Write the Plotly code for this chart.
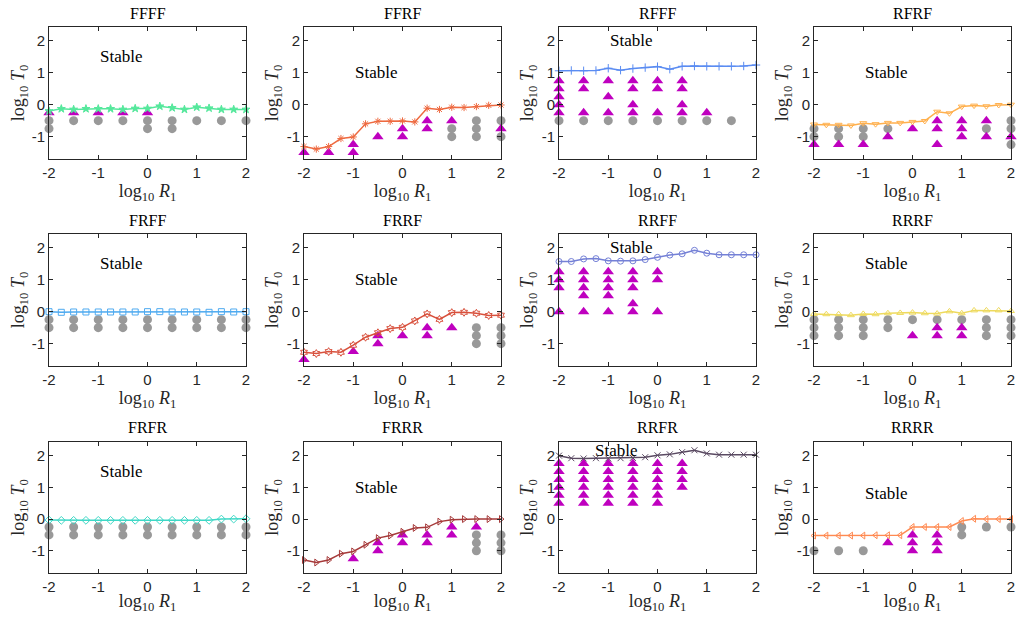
import plotly.graph_objects as go

x_line = [-2, -1.75, -1.5, -1.25, -1, -0.75, -0.5, -0.25, 0, 0.25, 0.5, 0.75, 1, 1.25, 1.5, 1.75, 2]

titles = ["FFFF", "FFRF", "RFFF", "RFRF",
          "FRFF", "FRRF", "RRFF", "RRRF",
          "FRFR", "FRRR", "RRFR", "RRRR"]

line_colors = ["#55E89C", "#EE6A40", "#5B8CF2", "#FFB04D",
               "#4EAAF0", "#D8503C", "#7480D6", "#EEDA5E",
               "#3ED8C6", "#A63A3A", "#5A4A62", "#FF8A52"]

line_symbols = ["star", "asterisk-open", "cross-thin-open", "triangle-down-open",
                "square-open", "hexagram-open", "circle-open", "triangle-up-open",
                "diamond-open", "triangle-right-open", "x-thin-open", "triangle-left-open"]

# critical log10 T0 vs log10 R1
line_y = {
    "FFFF": [-0.2, -0.13, -0.15, -0.13, -0.13, -0.13, -0.15, -0.12, -0.12, -0.05, -0.1, -0.15, -0.08, -0.11, -0.15, -0.15, -0.15],
    "FFRF": [-1.31, -1.39, -1.31, -1.06, -1.01, -0.6, -0.52, -0.52, -0.51, -0.54, -0.11, -0.15, -0.08, -0.09, -0.06, -0.02, -0.01],
    "RFFF": [1.06, 1.07, 1.06, 1.07, 1.14, 1.08, 1.13, 1.16, 1.19, 1.11, 1.2, 1.21, 1.2, 1.2, 1.2, 1.21, 1.24],
    "RFRF": [-0.62, -0.63, -0.63, -0.65, -0.58, -0.61, -0.57, -0.57, -0.54, -0.51, -0.22, -0.27, -0.06, -0.03, -0.05, -0.01, 0.0],
    "FRFF": [0.0, -0.02, -0.01, -0.01, -0.01, -0.01, -0.01, -0.01, 0.0, 0.0, -0.01, -0.01, -0.01, -0.02, 0.0, -0.01, 0.0],
    "FRRF": [-1.27, -1.31, -1.25, -1.27, -1.05, -0.8, -0.66, -0.53, -0.49, -0.29, -0.07, -0.24, -0.03, -0.02, -0.05, -0.12, -0.11],
    "RRFF": [1.57, 1.57, 1.65, 1.66, 1.59, 1.58, 1.59, 1.63, 1.7, 1.77, 1.81, 1.92, 1.83, 1.78, 1.78, 1.78, 1.78],
    "RRRF": [-0.07, -0.08, -0.08, -0.11, -0.07, -0.08, -0.05, -0.04, -0.03, -0.05, -0.06, 0.01, -0.05, 0.04, 0.04, 0.04, 0.02],
    "FRFR": [-0.03, -0.04, -0.04, -0.04, -0.04, -0.04, -0.04, -0.04, -0.04, -0.04, -0.04, -0.04, -0.04, -0.04, 0.0, 0.0, 0.01],
    "FRRR": [-1.29, -1.37, -1.29, -1.09, -1.02, -0.81, -0.6, -0.52, -0.4, -0.28, -0.26, -0.08, -0.02, 0.0, 0.0, 0.0, 0.0],
    "RRFR": [2.0, 1.92, 1.91, 1.92, 1.91, 1.92, 1.93, 1.95, 2.01, 2.04, 2.11, 2.17, 2.07, 2.03, 2.03, 2.03, 2.03],
    "RRRR": [-0.52, -0.52, -0.52, -0.52, -0.52, -0.51, -0.51, -0.51, -0.25, -0.25, -0.25, -0.25, -0.06, 0.01, 0.0, 0.0, 0.0],
}

# unstable samples (magenta triangles): (log10 R1, log10 T0)
tri_x = {
    "FFFF": [-2, -1.5, -1, -0.5, 0],
    "FFRF": [-2, -1.5, -1, -1, -0.5, 0, 0, 0.5, 0.5, 1, 2],
    "RFFF": [-2, -2, -2, -2, -2, -1.5, -1.5, -1.5, -1, -1, -1, -0.5, -0.5, -0.5, -0.5, 0, 0, 0, 0.5, 0.5, 0.5, 0.5, 1],
    "RFRF": [-2, -1.5, -1, -0.5, 0, 0.5, 0.5, 0.5, 1, 1, 1, 1.5, 1.5, 2],
    "FRFF": [],
    "FRRF": [-2, -1, -0.5, -0.5, 0, 0.5, 0.5, 1],
    "RRFF": [-2, -2, -2, -2, -1.5, -1.5, -1.5, -1.5, -1.5, -1, -1, -1, -1, -1, -0.5, -0.5, -0.5, -0.5, -0.5, 0, 0, 0],
    "RRRF": [0, 0.5, 0.5, 1, 1],
    "FRFR": [],
    "FRRR": [-1, -0.5, -0.5, 0, 0, 0.5, 0.5, 1, 1, 1.5],
    "RRFR": [-2] * 6 + [-1.5] * 6 + [-1] * 6 + [-0.5] * 6 + [0] * 6 + [0.5] * 4,
    "RRRR": [-0.5, 0, 0, 0, 0.5, 0.5, 0.5],
}
tri_y = {
    "FFFF": [-0.25, -0.25, -0.25, -0.25, -0.25],
    "FFRF": [-1.5, -1.5, -1.25, -1.5, -1.0, -0.75, -1.0, -0.5, -0.75, -0.5, -0.75],
    "RFFF": [0.75, 0.5, 0.25, 0, -0.25, 0.75, 0.5, -0.25, 0.75, 0.25, -0.25, 0.75, 0.5, 0, -0.25, 0.75, 0.5, -0.25, 0.75, 0.5, 0, -0.25, -0.25],
    "RFRF": [-1.25, -1.25, -1.25, -1.0, -0.75, -0.5, -0.75, -1.25, -0.5, -0.75, -1.0, -0.5, -1.0, -1.0],
    "FRFF": [],
    "FRRF": [-1.5, -1.25, -0.75, -1.0, -0.75, -0.5, -0.75, -0.5],
    "RRFF": [1.25, 1.0, 0.75, 0, 1.25, 1.0, 0.75, 0.5, 0, 1.25, 1.0, 0.75, 0.5, 0, 1.25, 1.0, 0.75, 0.25, 0, 1.25, 1.0, 0],
    "RRRF": [-0.75, -0.5, -0.75, -0.5, -0.75],
    "FRFR": [],
    "FRRR": [-1.25, -0.75, -1.0, -0.5, -0.75, -0.5, -0.75, -0.25, -0.5, -0.25],
    "RRFR": [1.75, 1.5, 1.25, 1.0, 0.75, 0.5] * 5 + [1.75, 1.5, 1.25, 1.0],
    "RRRR": [-0.75, -0.5, -0.75, -1.0, -0.5, -0.75, -1.0],
}

# other samples (gray circles)
dot_x = {
    "FFFF": [-2, -2, -1.5, -1, -0.5, 0, 0, 0.5, 0.5, 1, 1.5, 2],
    "FFRF": [1, 1, 1.5, 1.5, 1.5, 2, 2],
    "RFFF": [-2, -1.5, -1, -0.5, 0, 0.5, 1, 1.5],
    "RFRF": [-2, -2, -1.5, -1.5, -1, -1, -0.5, 1.5, 2, 2, 2],
    "FRFF": [-2, -2, -1.5, -1.5, -1, -1, -0.5, -0.5, 0, 0, 0.5, 0.5, 1, 1, 1.5, 1.5, 2, 2],
    "FRRF": [1.5, 1.5, 1.5, 2, 2, 2],
    "RRFF": [],
    "RRRF": [-2, -2, -2, -1.5, -1.5, -1.5, -1, -1, -1, -0.5, -0.5, 0, 0.5, 1, 1.5, 1.5, 1.5, 2, 2, 2],
    "FRFR": [-2, -2, -1.5, -1.5, -1, -1, -0.5, -0.5, 0, 0, 0.5, 0.5, 1, 1, 1.5, 1.5, 2, 2],
    "FRRR": [1.5, 1.5, 1.5, 2, 2, 2],
    "RRFR": [],
    "RRRR": [-2, -1.5, -1, 1, 1, 1.5, 2],
}
dot_y = {
    "FFFF": [-0.5, -0.75, -0.5, -0.5, -0.5, -0.5, -0.75, -0.5, -0.75, -0.5, -0.5, -0.5],
    "FFRF": [-0.75, -1.0, -0.5, -0.75, -1.0, -0.5, -1.0],
    "RFFF": [-0.5] * 8,
    "RFRF": [-0.75, -1.0, -0.75, -1.0, -0.75, -1.0, -0.75, -0.75, -0.5, -0.75, -1.25],
    "FRFF": [-0.25, -0.5] * 9,
    "FRRF": [-0.5, -0.75, -1.0, -0.5, -0.75, -1.0],
    "RRFF": [],
    "RRRF": [-0.25, -0.5, -0.75, -0.25, -0.5, -0.75, -0.25, -0.5, -0.75, -0.25, -0.5, -0.25, -0.25, -0.25, -0.25, -0.5, -0.75, -0.25, -0.5, -0.75],
    "FRFR": [-0.25, -0.5] * 9,
    "FRRR": [-0.5, -0.75, -1.0, -0.5, -0.75, -1.0],
    "RRFR": [],
    "RRRR": [-1.0, -1.0, -1.0, -0.25, -0.5, -0.25, -0.25],
}

stable_pos = {
    "FFFF": (-1.0, 1.5), "FFRF": (-1.0, 1.0), "RFFF": (-1.0, 2.0), "RFRF": (-1.0, 1.0),
    "FRFF": (-1.0, 1.5), "FRRF": (-1.0, 1.0), "RRFF": (-1.0, 2.0), "RRRF": (-1.0, 1.5),
    "FRFR": (-1.0, 1.5), "FRRR": (-1.0, 1.0), "RRFR": (-1.3, 2.15), "RRRR": (-1.0, 0.8),
}

# page body has an 8px margin: the figure starts at (8, 8) in the window
OFF = 8
W, H = 1028 - 2 * OFF, 622 - 2 * OFF
col_px = [(49, 246), (304, 501), (559, 756), (814, 1011)]
row_px = [(27, 159), (234, 366), (442, 573)]

SERIF = "Liberation Serif"
SANS = "Liberation Sans"
MAGENTA = "#BF00BF"
GRAY = "#999999"

fig = go.Figure()
layout = {}
annotations = []

for i, name in enumerate(titles):
    r, c = divmod(i, 4)
    k = "" if i == 0 else str(i + 1)
    xa, ya = "x" + k, "y" + k
    x0, x1 = (v - OFF for v in col_px[c])
    y0, y1 = (v - OFF for v in row_px[r])
    xd = [x0 / W, x1 / W]
    yd = [1 - y1 / H, 1 - y0 / H]
    axis_common = dict(
        showline=True, linecolor="#262626", linewidth=1, mirror="allticks",
        ticks="inside", ticklen=4, tickcolor="#262626", showgrid=False, zeroline=False,
        automargin=False,
        tickfont=dict(family=SANS, size=15, color="#262626"),
    )
    layout["xaxis" + k] = dict(
        domain=xd, anchor=ya, range=[-2, 2], tickvals=[-2, -1, 0, 1, 2],
        ticktext=["-2", "-1", "0", "1", "2"],
        title=dict(text="log<sub>10</sub> <i>R</i><sub>1</sub>",
                   font=dict(family=SERIF, size=18, color="#262626"), standoff=4),
        **axis_common)
    layout["yaxis" + k] = dict(
        domain=yd, anchor=xa, range=[-1.7, 2.43], tickvals=[-1, 0, 1, 2],
        ticktext=["-1", "0", "1", "2"],
        title=dict(text="log<sub>10</sub> <i>T</i><sub>0</sub>",
                   font=dict(family=SERIF, size=18, color="#262626"), standoff=3),
        **axis_common)

    if dot_x[name]:
        fig.add_trace(go.Scatter(x=dot_x[name], y=dot_y[name], mode="markers", xaxis=xa, yaxis=ya,
                                 marker=dict(symbol="circle", size=9, color=GRAY),
                                 showlegend=False, cliponaxis=False))
    if tri_x[name]:
        fig.add_trace(go.Scatter(x=tri_x[name], y=tri_y[name], mode="markers", xaxis=xa, yaxis=ya,
                                 marker=dict(symbol="triangle-up", size=10, color=MAGENTA),
                                 showlegend=False, cliponaxis=False))
    fig.add_trace(go.Scatter(x=x_line, y=line_y[name], mode="lines+markers", xaxis=xa, yaxis=ya,
                             line=dict(color=line_colors[i], width=1.5),
                             marker=dict(symbol=line_symbols[i], size=6, color=line_colors[i],
                                         line=dict(color=line_colors[i], width=1)),
                             showlegend=False, cliponaxis=False))

    annotations.append(dict(text=name, xref="paper", yref="paper",
                            x=(x0 + x1) / 2 / W, y=1 - (y0 - 14) / H,
                            xanchor="center", yanchor="middle", showarrow=False, borderpad=0,
                            font=dict(family=SERIF, size=16, color="#000000")))
    sx, sy = stable_pos[name]
    annotations.append(dict(text="Stable", xref=xa, yref=ya, x=sx, y=sy,
                            xanchor="left", yanchor="middle", showarrow=False,
                            font=dict(family=SERIF, size=17, color="#000000")))

fig.update_layout(**layout)
fig.update_layout(annotations=annotations, width=W, height=H,
                  margin=dict(l=0, r=0, t=0, b=0),
                  paper_bgcolor="white", plot_bgcolor="white", showlegend=False)

fig.write_html("out.html")
